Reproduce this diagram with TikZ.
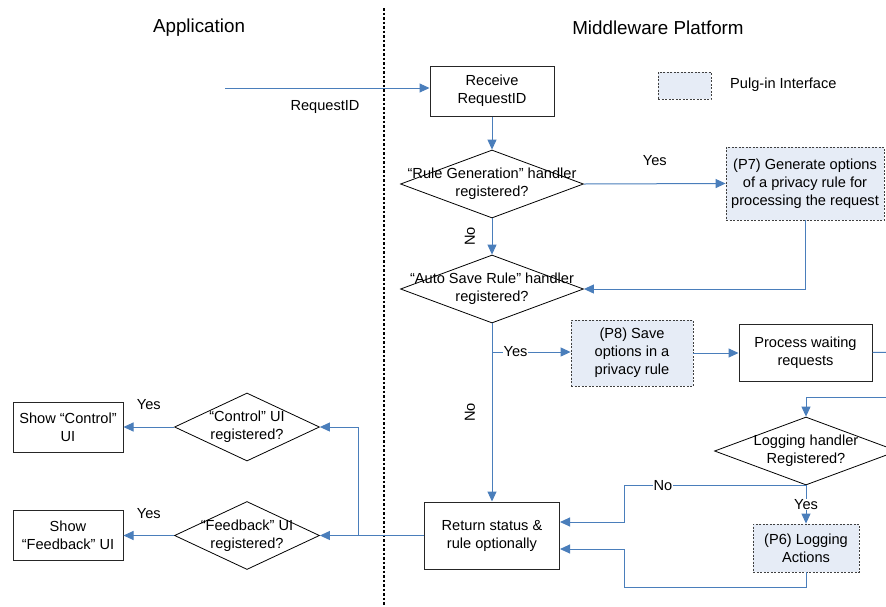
\documentclass[tikz,border=0pt]{standalone}
\usepackage{fontspec}
\setmainfont{Liberation Sans}
\usetikzlibrary{shapes.geometric,arrows.meta}
\definecolor{flow}{HTML}{4A7EBB}
\definecolor{plugfill}{HTML}{E6ECF6}
\definecolor{plugline}{HTML}{404040}

\tikzset{
  every node/.style={font=\fontsize{14.6}{18}\selectfont, align=center, inner sep=1pt},
  procbox/.style={draw=black!85, line width=1pt, inner sep=0pt, fill=white},
  plugbox/.style={draw=plugline, line width=0.8pt, dash pattern=on 2pt off 1.5pt, fill=plugfill, inner sep=0pt},
  decision/.style={draw=black, line width=0.8pt, shape=diamond, inner sep=0pt},
  flowline/.style={draw=flow, line width=1pt},
  flowarrow/.style={flowline, -{Triangle[length=10pt,width=9pt]}},
  lanetitle/.style={font=\fontsize{18.8}{22}\selectfont},
  divider/.style={line width=2.5pt, dash pattern=on 2.5pt off 2pt},
  onlinelabel/.style={fill=white, inner sep=0.5pt}
}

\begin{document}
\begin{tikzpicture}[x=1pt,y=-1pt]
\clip (0,0) rectangle (886,606);
\fill[white] (0,0) rectangle (886,606);

% swimlane titles and divider
\node[lanetitle] (apptitle) at (199,27.5) {Application};
\node[lanetitle] (mwtitle) at (658,27.5) {Middleware Platform};
\coordinate (divtop) at (384,8);
\coordinate (divbot) at (384,606);
\draw[divider] (divtop) -- (divbot);

% legend
\node[plugbox, minimum width=53, minimum height=27] (legend) at (684.5,85.5) {};
\node[anchor=west] (legendtext) at (729,85) {Pulg-in Interface};

% middleware column
\node[procbox, minimum width=124, minimum height=50] (recv) at (492,91) {Receive\\RequestID};
\node[decision, minimum width=183, minimum height=68] (d1) at (492,184) {};
\node (d1t) at (d1) {“Rule Generation” handler\\registered?};
\node[plugbox, minimum width=158, minimum height=73] (p7) at (805,183.5) {(P7) Generate options\\of a privacy rule for\\processing the request};
\node[decision, minimum width=183, minimum height=68] (d2) at (492,289) {};
\node (d2t) at (d2) {“Auto Save Rule” handler\\registered?};
\node[plugbox, minimum width=122, minimum height=66] (p8) at (632,353) {(P8) Save\\options in a\\privacy rule};
\node[procbox, minimum width=133, minimum height=57] (proc) at (805.5,352.5) {Process waiting\\requests};
\node[decision, minimum width=183, minimum height=68] (d3) at (806,451) {};
\node (d3t) at (d3) {Logging handler\\Registered?};
\node[plugbox, minimum width=106, minimum height=48] (p6) at (806,548) {(P6) Logging\\Actions};
\node[procbox, minimum width=135, minimum height=67] (ret) at (492,535.5) {Return status \&\\rule optionally};

% application column
\node[decision, minimum width=145, minimum height=68] (ctl) at (247,427) {};
\node (ctlt) at (ctl) {“Control” UI\\registered?};
\node[decision, minimum width=145, minimum height=68] (fb) at (247,535.5) {};
\node (fbt) at (fb) {“Feedback” UI\\registered?};
\node[procbox, minimum width=110, minimum height=50] (showc) at (68,427) {Show “Control”\\UI};
\node[procbox, minimum width=110, minimum height=50] (showf) at (68,535.5) {Show\\“Feedback” UI};

% incoming request
\coordinate (reqin) at (225,88);
\draw[flowarrow] (reqin) -- (reqin -| recv.west);
\node (reqlabel) at (325,107) {RequestID};

% connectors
\draw[flowarrow] (recv.south) -- (d1.north);
\draw[flowarrow] (d1.east) -- node[midway, yshift=23pt]{Yes} (p7.west);
\draw[flowarrow] (d1.south) -- node[midway, xshift=-22pt, rotate=90]{No} (d2.north);
\draw[flowarrow] (p7.south) |- (d2.east);
\draw[flowarrow] (d2.south) -- node[pos=0.5, xshift=-22pt, rotate=90]{No} (ret.north);
\coordinate (yesbranch) at (492,352);
\draw[flowarrow] (yesbranch) -- node[onlinelabel, pos=0.3]{Yes} (yesbranch -| p8.west);
\draw[flowarrow] (p8.east) -- (p8.east -| proc.west);
\coordinate (procout) at (900,352);
\draw[flowline] (proc.east) -- (procout);
\coordinate (login) at (900,397);
\draw[flowarrow] (login) -| (d3.north);
\draw[flowarrow] (d3.south) -- node[onlinelabel, midway]{Yes} (p6.north);
\coordinate (nojog) at (624,522);
\draw[flowarrow] (d3.south) -- node[onlinelabel, pos=0.786]{No} (d3.south -| nojog) -- (nojog) -- (nojog -| ret.east);
\coordinate (p6jog) at (624,587);
\coordinate (p6in) at (624,549);
\draw[flowarrow] (p6.south) |- (p6jog) -- (p6in) -- (p6in -| ret.east);
\coordinate (split) at (358,535.5);
\draw[flowarrow] (ret.west) -- (fb.east);
\draw[flowarrow] (split) |- (ctl.east);
\draw[flowarrow] (ctl.west) -- node[midway, yshift=22pt]{Yes} (showc.east);
\draw[flowarrow] (fb.west) -- node[midway, yshift=22pt]{Yes} (showf.east);
\end{tikzpicture}
\end{document}
